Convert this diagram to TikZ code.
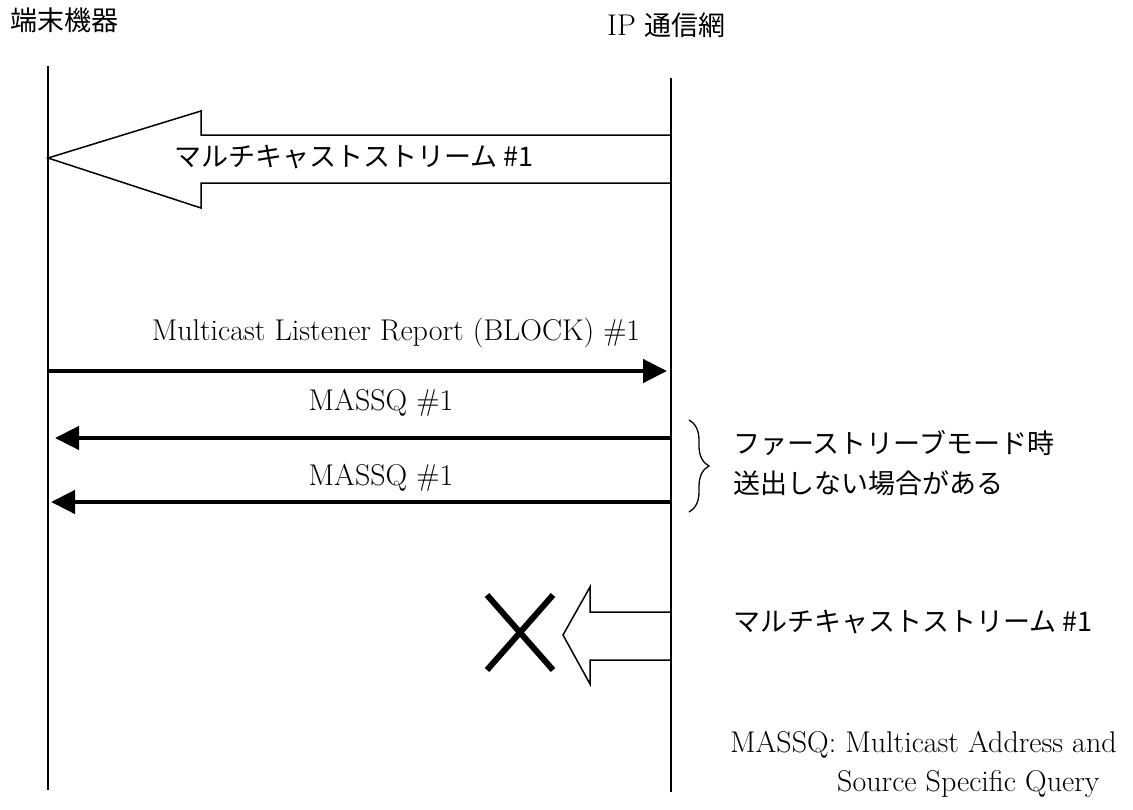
\documentclass[tikz,border=0pt]{standalone}
\usepackage{fontspec}
\newfontfamily\jp{Noto Sans CJK JP}
\usetikzlibrary{arrows.meta,decorations.pathreplacing}
\begin{document}
\begin{tikzpicture}[x=1pt,y=-1pt,
  life/.style={line width=1.5pt},
  msg/.style={line width=4.5pt,-{Triangle[length=24pt,width=23pt]}},
  fat/.style={line width=1.5pt,line join=miter},
  lat/.style={font=\fontsize{30}{36}\selectfont,inner sep=0pt},
  jpl/.style={font=\jp\fontsize{27}{32}\selectfont,inner sep=0pt},
  brc/.style={line width=1.3pt,decorate,decoration={brace,amplitude=20pt}},
  cross/.style={line width=6pt}]
\useasboundingbox (0,0) rectangle (1133,809);
% lifelines
\coordinate (LT) at (48,66);
\coordinate (LB) at (48,790);
\coordinate (RT) at (671,78);
\coordinate (RB) at (671,792);
\draw[life] (LT) -- (LB);
\draw[life] (RT) -- (RB);
% headers
\node[jpl,anchor=west] (term) at (10,20) {端末機器};
\node[jpl,anchor=west] (net) at (607,25) {\rmfamily\fontsize{30}{36}\selectfont IP\ \jp\fontsize{27}{32}\selectfont 通信網};
% big stream arrow
\draw[fat] (671,135) -- (201,135) -- (201,111) -- (48,158) -- (201,208) -- (201,183) -- (671,183);
\node[jpl,anchor=west] (s1) at (174,157) {マルチキャストストリーム \#1};
% report
\coordinate (A1) at (48,371);
\coordinate (B1) at (667,371);
\draw[msg] (A1) -- (B1);
\node[lat] (rep) at (396,333) {Multicast Listener Report (BLOCK) \#1};
% MASSQ 1
\coordinate (A2) at (671,438);
\coordinate (B2) at (55,438);
\draw[msg] (A2) -- (B2);
\node[lat] (q1) at (381,403) {MASSQ \#1};
% MASSQ 2
\coordinate (A3) at (671,502);
\coordinate (B3) at (51,502);
\draw[msg] (A3) -- (B3);
\node[lat] (q2) at (381,478) {MASSQ \#1};
% brace
\coordinate (BT) at (689,420);
\coordinate (BB) at (689,512);
\draw[brc] (BT) -- (BB);
\node[jpl,anchor=west] (n1) at (733,443) {ファーストリーブモード時};
\node[jpl,anchor=west] (n2) at (733,483) {送出しない場合がある};
% blocked stream
\draw[fat] (671,612) -- (590,612) -- (590,587) -- (563,635) -- (590,684) -- (590,660) -- (671,660);
\draw[cross] (487,595) -- (553,670);
\draw[cross] (553,595) -- (487,670);
\node[jpl,anchor=west] (s2) at (733,622) {マルチキャストストリーム \#1};
% footnote
\node[lat,anchor=west] (f1) at (730,745) {MASSQ: Multicast Address and};
\node[lat,anchor=west] (f2) at (837,784) {Source Specific Query};
\end{tikzpicture}
\end{document}
